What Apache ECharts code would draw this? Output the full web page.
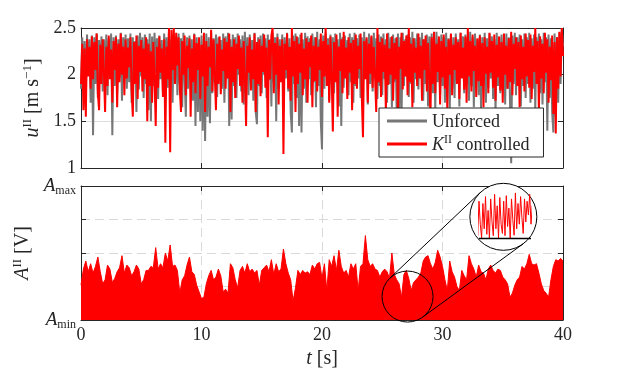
<!DOCTYPE html>
<html><head><meta charset="utf-8">
<script src="https://cdn.jsdelivr.net/npm/echarts@6/dist/echarts.min.js"></script>
<style>html,body{margin:0;padding:0;background:#fff}#c{width:623px;height:376px}</style>
</head><body><div id="c"></div>
<script>
// ---- data ----
const timeStep = 0.1; // s, spacing of the u^II samples
const uUnforced = [
1.85,2.40,1.95,2.36,1.80,2.43,2.05,2.38,1.70,2.42,
1.35,2.40,1.90,2.44,1.75,2.37,2.00,2.41,1.82,2.38,
1.95,2.43,1.78,2.39,2.02,2.44,1.35,2.40,1.88,2.42,
1.80,2.38,1.97,2.45,1.72,2.40,2.05,2.43,1.85,2.39,
1.92,2.44,1.70,2.40,2.00,2.36,1.60,2.42,1.84,2.45,
1.98,2.40,1.75,2.43,1.90,2.38,1.62,2.44,1.50,2.41,
1.88,2.45,2.02,2.39,1.74,2.42,1.95,2.37,1.80,2.44,
2.00,2.40,1.86,2.46,1.92,2.38,1.70,2.43,2.04,2.40,
1.78,2.44,1.90,2.39,1.65,2.45,1.98,1.55,2.40,1.85,
2.42,1.95,2.38,1.72,2.44,1.45,2.40,1.60,2.36,1.50,
2.42,1.40,2.38,1.29,2.44,1.55,2.40,1.48,2.45,1.80,
2.39,1.92,2.43,1.76,2.40,2.02,2.37,1.85,2.44,1.70,
2.41,1.96,2.45,1.45,2.38,1.52,2.43,1.88,2.40,1.75,
2.44,2.00,2.38,1.82,2.42,1.68,2.46,1.95,2.40,1.78,
2.43,1.90,2.37,1.72,2.45,1.60,1.47,2.40,1.88,2.42,
1.80,2.44,2.00,2.39,1.75,2.43,1.94,2.38,1.66,2.45,
1.92,2.40,1.50,2.44,1.85,2.38,2.02,2.43,1.70,2.40,
1.96,2.45,1.82,2.39,1.60,1.38,2.42,1.90,2.44,1.75,
2.40,1.45,2.43,1.38,2.38,1.85,2.45,1.70,2.41,1.95,
2.39,1.78,2.44,1.92,2.40,1.65,2.46,1.88,2.38,1.50,
1.20,2.42,1.85,2.45,1.98,2.39,1.72,2.43,1.90,2.40,
1.80,2.44,1.95,2.38,1.66,2.45,1.45,2.40,1.86,2.42,
2.00,2.37,1.78,2.44,1.92,2.40,1.70,2.45,1.88,2.39,
1.96,2.43,1.75,2.40,1.85,2.46,2.02,2.38,1.68,2.44,
1.90,2.40,1.82,2.45,1.97,2.39,1.74,2.43,1.88,2.41,
1.78,2.44,1.95,2.38,1.70,2.45,1.90,2.40,1.65,2.43,
1.92,2.39,1.55,2.44,1.60,2.40,1.52,2.45,1.88,2.38,
2.02,2.43,1.76,2.40,1.90,2.46,1.70,2.39,1.95,2.44,
1.84,2.40,1.98,2.45,1.72,2.38,1.90,2.43,1.66,2.41,
1.95,2.44,1.80,2.40,1.62,2.46,1.92,2.38,1.78,2.43,
1.88,2.40,1.70,2.45,1.96,2.39,1.60,2.43,1.85,2.40,
1.75,2.44,1.92,2.38,1.66,2.45,1.98,2.41,1.80,2.43,
1.90,2.39,1.72,2.46,1.88,2.40,1.65,2.44,1.95,2.38,
1.78,2.43,1.62,2.40,1.90,2.45,1.70,2.39,1.86,2.44,
1.96,2.41,1.74,2.38,1.60,2.45,1.88,2.40,1.80,2.43,
1.92,2.39,1.68,2.44,1.85,2.40,1.72,1.05,2.42,1.90,
2.45,1.78,2.40,1.95,2.43,1.66,2.38,1.88,2.44,1.75,
2.40,1.90,2.45,1.70,2.39,1.85,2.43,1.62,2.40,1.95,
2.44,1.80,2.38,1.68,2.45,1.92,2.40,1.40,2.43,1.75,
2.39,1.60,1.38,2.44,1.55,2.40,1.70,2.45,1.90,2.48,
2.30];
const uControlled = [
1.90,2.33,1.62,2.28,1.55,2.38,1.98,2.30,1.85,2.41,
1.95,2.35,2.05,2.44,1.80,1.62,2.32,1.90,2.38,2.02,
1.60,2.30,1.88,2.42,1.95,2.27,1.70,2.36,2.05,2.40,
1.65,2.33,1.92,2.44,2.00,2.30,1.78,2.38,1.96,2.29,
2.08,2.40,1.84,1.55,2.35,1.90,2.42,1.74,2.31,2.03,
2.37,1.82,2.28,1.95,2.40,1.50,2.33,1.88,2.25,1.70,
2.35,1.98,1.45,2.30,1.86,2.41,2.02,2.28,1.76,2.38,
1.27,2.30,1.95,2.50,1.17,2.48,2.05,2.50,1.90,2.45,
2.10,2.40,1.85,1.60,2.36,2.00,2.42,1.78,2.31,2.07,
2.39,1.55,2.28,1.92,2.43,1.80,2.34,2.05,2.40,1.74,
2.32,1.98,2.45,1.60,2.36,1.88,2.30,2.08,2.48,1.82,
2.38,2.00,1.62,2.33,1.90,2.41,1.79,2.27,2.04,2.39,
1.85,2.35,1.96,2.44,1.60,2.30,1.92,2.38,1.75,2.33,
2.06,2.42,1.88,2.29,1.70,2.36,1.98,1.45,2.31,2.02,
2.40,1.83,2.27,1.95,2.44,1.60,2.35,1.90,2.38,1.77,
2.31,2.03,2.43,1.86,2.29,1.33,2.37,1.95,2.42,2.50,
1.80,2.34,2.00,2.40,1.68,2.31,1.92,2.38,1.15,2.33,
2.05,2.44,1.85,2.30,1.72,2.50,1.98,2.36,1.60,2.41,
1.90,2.33,2.02,2.45,1.78,2.28,1.95,2.39,1.70,2.35,
2.08,2.42,1.65,2.31,1.93,2.40,1.82,2.30,2.05,2.44,
1.76,2.36,1.98,2.50,1.88,2.32,1.70,2.41,2.00,1.39,
2.35,1.92,2.43,1.55,2.30,2.04,2.38,1.80,2.46,1.96,
2.29,1.74,2.40,2.02,2.34,1.62,2.37,1.90,2.43,1.85,
2.31,2.06,2.44,1.78,1.33,2.36,1.95,2.40,1.70,2.33,
2.01,2.42,1.86,2.30,1.98,1.60,2.50,1.92,2.35,1.76,
2.39,2.03,2.32,1.60,2.44,1.89,2.28,2.00,2.41,1.72,
2.34,1.95,2.40,1.55,2.30,2.06,2.45,1.84,2.36,1.98,
2.42,1.78,2.50,1.92,2.33,1.65,2.39,2.02,2.29,1.88,
2.44,1.96,2.31,1.72,2.38,2.05,2.42,1.82,2.34,1.95,
1.55,2.40,1.90,2.46,1.80,2.33,2.03,2.41,1.68,2.36,
1.97,2.43,1.85,2.30,1.60,2.38,2.00,2.44,1.78,2.32,
2.05,2.40,1.90,2.35,1.74,2.45,1.96,2.29,1.84,2.41,
1.70,2.50,1.98,2.36,1.82,2.43,2.04,2.31,1.76,2.39,
1.93,2.42,1.88,2.34,1.65,2.40,2.01,2.30,1.80,2.45,
2.02,2.36,1.86,2.43,1.72,2.32,1.97,2.41,1.83,2.35,
1.70,2.44,2.00,2.31,1.85,2.39,1.92,2.46,1.78,2.33,
2.06,2.40,1.88,2.35,1.65,2.42,1.95,2.30,1.82,2.44,
1.98,2.37,1.86,2.43,1.74,2.31,2.03,2.50,1.90,2.36,
1.60,2.41,1.96,2.33,1.80,2.45,2.02,2.38,1.70,2.30,
1.94,2.42,1.58,2.35,1.37,2.40,1.85,2.46,1.98,2.50,
2.20];
const ampStep = 0.2; // s, spacing of the A^II samples (normalised: 0 = A_min, 1 = A_max)
const ampControlled = [
0.26,0.38,0.44,0.36,0.42,0.35,0.40,0.47,0.36,0.27,
0.30,0.41,0.38,0.28,0.31,0.36,0.39,0.48,0.35,0.41,
0.39,0.33,0.36,0.41,0.38,0.27,0.30,0.37,0.37,0.40,
0.39,0.54,0.38,0.42,0.39,0.50,0.44,0.56,0.40,0.41,
0.37,0.20,0.30,0.33,0.41,0.47,0.36,0.34,0.26,0.21,
0.16,0.17,0.27,0.33,0.37,0.30,0.32,0.38,0.33,0.21,
0.23,0.20,0.42,0.39,0.30,0.24,0.37,0.40,0.35,0.42,
0.36,0.38,0.35,0.37,0.26,0.37,0.39,0.41,0.36,0.45,
0.34,0.42,0.36,0.38,0.53,0.42,0.35,0.30,0.14,0.24,
0.37,0.34,0.37,0.35,0.36,0.34,0.41,0.38,0.42,0.43,
0.31,0.42,0.22,0.45,0.40,0.48,0.37,0.52,0.40,0.35,
0.37,0.32,0.42,0.38,0.42,0.22,0.40,0.42,0.63,0.45,
0.40,0.42,0.38,0.37,0.32,0.36,0.38,0.36,0.31,0.50,
0.34,0.30,0.27,0.17,0.34,0.37,0.31,0.22,0.28,0.30,
0.32,0.35,0.44,0.47,0.48,0.42,0.38,0.43,0.52,0.47,
0.40,0.30,0.22,0.44,0.36,0.32,0.25,0.22,0.37,0.33,
0.30,0.48,0.42,0.38,0.32,0.41,0.36,0.35,0.30,0.38,
0.41,0.37,0.35,0.38,0.37,0.32,0.30,0.27,0.17,0.20,
0.26,0.30,0.32,0.40,0.38,0.42,0.49,0.42,0.41,0.42,
0.35,0.27,0.22,0.20,0.17,0.30,0.40,0.45,0.44,0.46,
0.44];
// magnified view shown in the inset circle (normalised)
const insetValues = [0.55,0.85,0.25,0.70,0.05,0.80,0.30,0.0,0.75,0.20,0.90,0.08,0.60,0.0,0.85,0.35,0.05,0.95,0.20,0.70,0.0,0.88,0.30,0.10,0.80,0.05,0.92,0.25,0.65,0.0,0.85,0.40,0.06,0.98,0.20,0.75,0.30,0.90,0.45,0.10,0.85,0.35,0.80,0.50,0.95,0.30,0.70,0.20,0.85,0.40,0.75];
const uTicks = [1, 1.5, 2, 2.5];
const tTicks = [0, 10, 20, 30, 40];
const ampTickLabels = { 0: '{i|A}{sub|min}', 1: '{i|A}{sub|max}' };
const zoomFrom = [27.1, 0.175];  // data coords (t, A) of the magnified spot
const zoomTo = [35.05, 0.77];    // data coords of the inset circle centre
const insetSpan = [5, 45];       // inset x-window (sample index) covered by its baseline

// ---- chart ----
const FONT = 'Liberation Serif';
const AX = '#262626';
const toPairs = (arr, step) => arr.map((v, i) => [+(i * step).toFixed(3), v]);
const chart = echarts.init(document.getElementById('c'), null, { renderer: 'canvas' });

function richOf(size, supSize, raise) {
  return {
    r: { fontFamily: FONT, fontSize: size, color: AX, verticalAlign: 'bottom', lineHeight: size + 2 },
    i: { fontFamily: FONT, fontSize: size, fontStyle: 'italic', color: AX, verticalAlign: 'bottom', lineHeight: size + 2 },
    sup: { fontFamily: FONT, fontSize: supSize, color: AX, verticalAlign: 'bottom', lineHeight: supSize + 2, padding: [0, 0, raise, 0] }
  };
}
const richName = richOf(20, 13, 9);
const richLegend = richOf(18, 12, 8);
const richSub = {
  i: { fontFamily: FONT, fontSize: 19, fontStyle: 'italic', color: AX, verticalAlign: 'top', lineHeight: 20 },
  sub: { fontFamily: FONT, fontSize: 12, color: AX, verticalAlign: 'top', lineHeight: 13, padding: [9, 0, 0, 0] }
};

function xAx(grid, pos, labels, extra) {
  return Object.assign({
    type: 'value', gridIndex: grid, position: pos, min: tTicks[0], max: tTicks[tTicks.length - 1], interval: 10,
    axisLine: { show: true, onZero: false, lineStyle: { color: AX, width: 1 } },
    axisTick: { show: true, inside: true, length: 5, lineStyle: { color: AX } },
    axisLabel: { show: labels, color: AX, fontFamily: FONT, fontSize: 18, margin: 6 },
    splitLine: { show: false }
  }, extra || {});
}
function yAx(grid, pos, extra) {
  return Object.assign({
    type: 'value', gridIndex: grid, position: pos,
    axisLine: { show: true, onZero: false, lineStyle: { color: AX, width: 1 } },
    axisTick: { show: true, inside: true, length: 5, lineStyle: { color: AX } },
    axisLabel: { show: false },
    splitLine: { show: false }
  }, extra || {});
}

const option = {
  animation: false,
  backgroundColor: '#fff',
  grid: [
    { left: 81, top: 28, width: 482, height: 140 },
    { left: 81, top: 186, width: 482, height: 134 },
    { left: 479, top: 192, width: 52, height: 46 }
  ],
  xAxis: [
    xAx(0, 'bottom', false, { splitLine: { show: true, lineStyle: { color: '#dedede', width: 1 } } }),
    xAx(0, 'top', false),
    xAx(1, 'bottom', true, {
      splitLine: { show: true, lineStyle: { color: '#d9d9d9', width: 1, type: [9, 5] } },
      name: '{i|t}{r| [s]}', nameLocation: 'middle', nameGap: 27,
      nameTextStyle: { rich: richName }
    }),
    xAx(1, 'top', false),
    { type: 'value', gridIndex: 2, min: insetSpan[0], max: insetSpan[1], show: false }
  ],
  yAxis: [
    yAx(0, 'left', {
      min: uTicks[0], max: uTicks[uTicks.length - 1], interval: 0.5,
      axisLabel: { show: true, color: AX, fontFamily: FONT, fontSize: 18, margin: 5 },
      splitLine: { show: true, lineStyle: { color: '#dedede', width: 1 } },
      name: '{i|u}{sup|II}{r| [m s}{sup|−1}{r|]}', nameLocation: 'middle', nameGap: 30, nameRotate: 90,
      nameTextStyle: { rich: richName }
    }),
    yAx(0, 'right', { min: 1, max: 2.5, interval: 0.5 }),
    yAx(1, 'left', {
      min: 0, max: 1, interval: 0.25,
      axisLabel: { show: true, margin: 5, formatter: v => ampTickLabels[v] || '', rich: richSub },
      splitLine: { show: true, lineStyle: { color: '#d9d9d9', width: 1, type: [9, 5] } },
      name: '{i|A}{sup|II}{r| [V]}', nameLocation: 'middle', nameGap: 47, nameRotate: 90,
      nameTextStyle: { rich: richName }
    }),
    yAx(1, 'right', { min: 0, max: 1, interval: 0.25 }),
    { type: 'value', gridIndex: 2, min: 0, max: 1, show: false }
  ],
  legend: {
    left: 379, top: 108, orient: 'vertical',
    backgroundColor: '#fff', borderColor: AX, borderWidth: 1, borderRadius: 0,
    padding: [5, 14, 3, 8], itemGap: 3, itemWidth: 40, itemHeight: 3,
    data: [{ name: 'Unforced', icon: 'rect' }, { name: 'K controlled', icon: 'rect' }],
    formatter: n => n === 'Unforced' ? '{r|Unforced}' : '{i|K}{sup|II}{r| controlled}',
    textStyle: { rich: richLegend },
    selectedMode: false
  },
  series: [
    { name: 'Unforced', type: 'line', xAxisIndex: 0, yAxisIndex: 0, showSymbol: false, symbol: 'none',
      color: '#777777', lineStyle: { color: '#777777', width: 2 }, data: toPairs(uUnforced, timeStep) },
    { name: 'K controlled', type: 'line', xAxisIndex: 0, yAxisIndex: 0, showSymbol: false, symbol: 'none',
      color: '#ff0000', lineStyle: { color: '#ff0000', width: 2 }, data: toPairs(uControlled, timeStep) },
    { name: 'amp', type: 'line', xAxisIndex: 2, yAxisIndex: 2, showSymbol: false, symbol: 'none',
      color: '#ff0000', lineStyle: { color: '#ff0000', width: 1 }, areaStyle: { color: '#ff0000', opacity: 1 },
      data: toPairs(ampControlled, ampStep) },
    { name: 'inset', type: 'line', xAxisIndex: 4, yAxisIndex: 4, showSymbol: false, symbol: 'none', clip: false, z: 10,
      color: '#ff0000', lineStyle: { color: '#ff0000', width: 1 }, data: insetValues.map((v, i) => [i, v]) }
  ]
};
chart.setOption(option);

// zoom-circle annotation
const p1 = chart.convertToPixel({ xAxisIndex: 2, yAxisIndex: 2 }, zoomFrom);
const p2 = chart.convertToPixel({ xAxisIndex: 2, yAxisIndex: 2 }, zoomTo);
const b1 = chart.convertToPixel({ xAxisIndex: 4, yAxisIndex: 4 }, [insetSpan[0], 0]);
const b2 = chart.convertToPixel({ xAxisIndex: 4, yAxisIndex: 4 }, [insetSpan[1], 0]);
const r1 = 25.5, r2 = 33.5;
const dx = p2[0] - p1[0], dy = p2[1] - p1[1], d = Math.hypot(dx, dy);
const ux = dx / d, uy = dy / d, c = (r1 - r2) / d, s = Math.sqrt(1 - c * c);
const tangents = [1, -1].map(k => {
  const nx = ux * c - k * uy * s, ny = uy * c + k * ux * s;
  return { type: 'line', z: 5, shape: { x1: p1[0] + r1 * nx, y1: p1[1] + r1 * ny, x2: p2[0] + r2 * nx, y2: p2[1] + r2 * ny },
    style: { stroke: '#000', lineWidth: 1 } };
});
chart.setOption({ graphic: [
  { type: 'circle', z: 4, shape: { cx: p2[0], cy: p2[1], r: r2 }, style: { fill: '#fff', stroke: '#000', lineWidth: 1 } },
  { type: 'circle', z: 5, shape: { cx: p1[0], cy: p1[1], r: r1 }, style: { fill: 'none', stroke: '#000', lineWidth: 1 } },
  { type: 'line', z: 100, zlevel: 0, shape: { x1: b1[0], y1: b1[1] + 0.5, x2: b2[0], y2: b2[1] + 0.5 }, style: { stroke: '#000', lineWidth: 1.5 } }
].concat(tangents) });
</script></body></html>
